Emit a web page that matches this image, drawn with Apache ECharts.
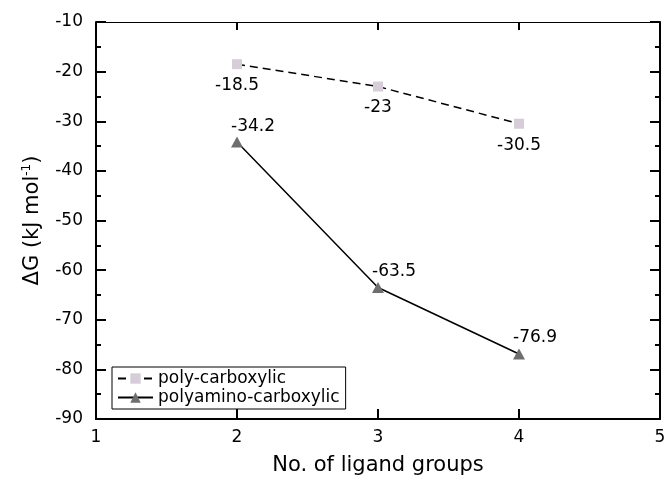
<!DOCTYPE html>
<html>
<head>
<meta charset="utf-8">
<script src="https://cdn.jsdelivr.net/npm/echarts@6/dist/echarts.min.js"></script>
<style>
html,body{margin:0;padding:0;background:#fff;}
#chart{width:669px;height:477px;}
</style>
</head>
<body>
<div id="chart"></div>
<script>
const ligandGroups = [2, 3, 4];
const polyCarboxylic = [-18.5, -23, -30.5];
const polyaminoCarboxylic = [-34.2, -63.5, -76.9];
const seriesNames = ['poly-carboxylic', 'polyamino-carboxylic'];
const xTitle = 'No. of ligand groups';

const FONT = '"DejaVu Sans", "Liberation Sans", Arial, sans-serif';
const chart = echarts.init(document.getElementById('chart'), null, {renderer: 'canvas'});

const pairs = (ys) => ligandGroups.map((x, i) => [x, ys[i]]);

const option = {
  backgroundColor: '#fff',
  animation: false,
  textStyle: {fontFamily: FONT},
  grid: {left: 96, right: 9, top: 22, bottom: 58, containLabel: false, outerBoundsMode: 'none'},
  legend: {
    orient: 'vertical',
    left: 112,
    top: 367,
    data: seriesNames,
    borderColor: '#000',
    borderWidth: 1,
    borderRadius: 0,
    padding: [3, 6, 3, 5],
    itemGap: 2,
    itemWidth: 35,
    itemHeight: 13,
    textStyle: {fontFamily: FONT, fontSize: 17, lineHeight: 15, color: '#000'},
    backgroundColor: '#fff'
  },
  xAxis: [{
    type: 'value', min: 1, max: 5, interval: 1,
    axisLine: {show: true, lineStyle: {color: '#000', width: 2}},
    axisTick: {inside: true, length: 10, lineStyle: {color: '#000', width: 2}},
    axisLabel: {fontFamily: FONT, fontSize: 17, color: '#000', margin: 10},
    splitLine: {show: false},
    name: xTitle, nameLocation: 'middle', nameGap: 36,
    nameTextStyle: {fontFamily: FONT, fontSize: 21, color: '#000'}
  }, {
    type: 'value', min: 1, max: 5, interval: 1, position: 'top',
    axisLine: {show: true, lineStyle: {color: '#000', width: 1}},
    axisTick: {inside: true, length: 8, lineStyle: {color: '#000', width: 2}},
    axisLabel: {show: false},
    splitLine: {show: false}
  }],
  yAxis: [{
    type: 'value', min: -90, max: -10, interval: 10,
    axisLine: {show: true, lineStyle: {color: '#000', width: 2}},
    axisTick: {inside: true, length: 10, lineStyle: {color: '#000', width: 2}},
    minorTick: {show: true, splitNumber: 2, length: 5, lineStyle: {color: '#000', width: 2}},
    axisLabel: {fontFamily: FONT, fontSize: 17, color: '#000', margin: 13},
    splitLine: {show: false},
    name: 'ΔG (kJ mol{sup|-1})', nameLocation: 'middle', nameGap: 52,
    nameTextStyle: {
      fontFamily: FONT, fontSize: 21, color: '#000',
      rich: {sup: {fontFamily: FONT, fontSize: 12, color: '#000', verticalAlign: 'bottom', padding: [0, 0, 11, 0]}}
    }
  }, {
    type: 'value', min: -90, max: -10, interval: 10, position: 'right',
    axisLine: {show: true, lineStyle: {color: '#000', width: 2}},
    axisTick: {inside: true, length: 10, lineStyle: {color: '#000', width: 2}},
    minorTick: {show: true, splitNumber: 2, length: 5, lineStyle: {color: '#000', width: 2}},
    axisLabel: {show: false},
    splitLine: {show: false}
  }],
  series: [{
    name: seriesNames[0],
    type: 'line',
    data: pairs(polyCarboxylic),
    symbol: 'rect', symbolSize: 10,
    itemStyle: {color: '#d6cdd9'},
    lineStyle: {color: '#000', width: 1.5, type: [8, 5]},
    label: {show: true, position: 'bottom', distance: 8, fontFamily: FONT, fontSize: 17, color: '#000',
      formatter: p => String(p.value[1])},
    z: 3
  }, {
    name: seriesNames[1],
    type: 'line',
    data: pairs(polyaminoCarboxylic),
    symbol: 'triangle', symbolSize: [12, 11],
    itemStyle: {color: '#6e6e70'},
    lineStyle: {color: '#000', width: 1.5},
    label: {show: true, position: 'top', distance: 2, offset: [16, 0], fontFamily: FONT, fontSize: 17, color: '#000',
      formatter: p => String(p.value[1])},
    z: 3
  }]
};
chart.setOption(option);
</script>
</body>
</html>
